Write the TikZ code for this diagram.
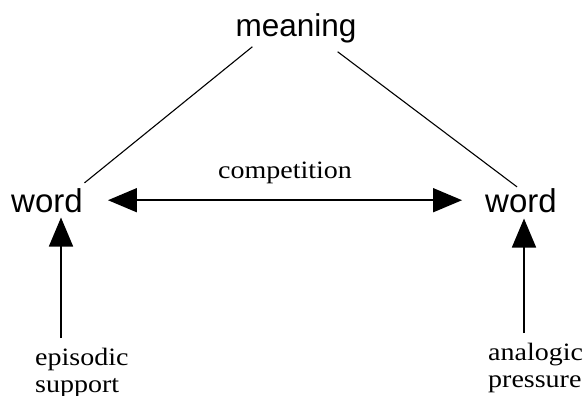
\documentclass[tikz,border=0pt]{standalone}
\usepackage{fontspec}
\usetikzlibrary{arrows.meta}
\newfontfamily\headfont{Liberation Sans}
\newfontfamily\notefont{Liberation Serif}[FakeStretch=1.12]
\begin{document}
\begin{tikzpicture}[x=1pt,y=-1pt,
  term/.style={inner sep=0pt,anchor=base,font=\headfont\fontsize{33}{36}\selectfont},
  note/.style={inner sep=0pt,align=left,font=\notefont\fontsize{25}{27}\selectfont},
  link/.style={line width=1.1pt},
  push/.style={line width=1.7pt,-{Triangle[length=29pt,width=24pt]}},
  rival/.style={line width=1.7pt,{Triangle[length=29pt,width=24pt]}-{Triangle[length=29pt,width=24pt]}}]
  \useasboundingbox (0,0) rectangle (584,396);

  % the shared meaning and the two competing forms
  \node[term,font=\headfont\fontsize{31.5}{34}\selectfont] (meaning) at (296,37) {meaning};
  \node[term] (wordL) at (47,212) {word};
  \node[term] (wordR) at (521,212) {word};

  \draw[link] ([shift={(17,3)}]meaning.south west) -- ([shift={(1.5,-5)}]wordL.north east);
  \draw[link] ([shift={(-19,8)}]meaning.south east) -- ([shift={(32,-1)}]wordR.north west);

  % competition between the forms
  \draw[rival] ([xshift=25pt]wordL.east) -- ([xshift=-23pt]wordR.west)
    node[midway,inner sep=0pt,anchor=base,yshift=22pt,font=\notefont\fontsize{25}{27}\selectfont] (comp) {competition};

  % forces acting on each form (base anchor sits on the last line)
  \node[note,anchor=base west] (episodic) at (35,392) {episodic\\support};
  \node[note,anchor=base west] (analogic) at (488,387) {analogic\\pressure};

  \coordinate (epTail) at (61,338);
  \coordinate (anTail) at (524,333);
  \draw[push] (epTail) -- ([yshift=-5pt]epTail |- wordL.south);
  \draw[push] (anTail) -- ([yshift=-6pt]anTail |- wordR.south);
\end{tikzpicture}
\end{document}
